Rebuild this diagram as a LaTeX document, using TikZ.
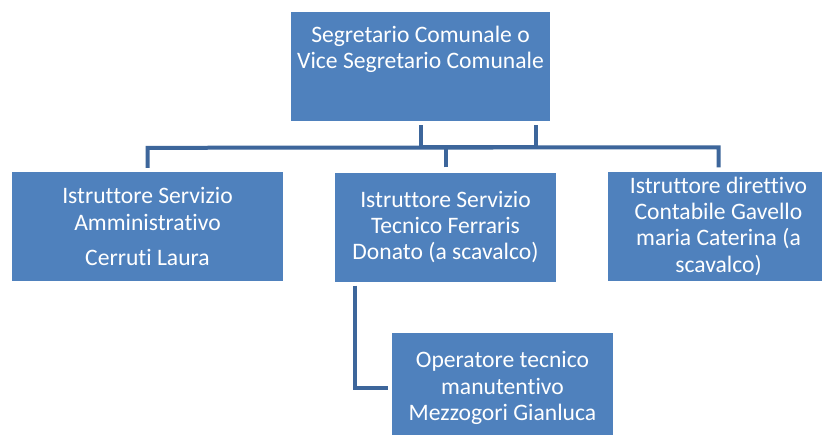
\documentclass[tikz,border=0pt]{standalone}
\usepackage{fontspec}
\setmainfont{Carlito}[Ligatures={NoCommon}]
\usetikzlibrary{calc}
\definecolor{boxblue}{RGB}{79,129,189}
\definecolor{linkblue}{RGB}{61,102,155}
\tikzset{
  box/.style={fill=boxblue, draw=none, rectangle, minimum width=221pt, minimum height=109pt,
    inner sep=0pt, align=center, text=white, font=\fontsize{23.6}{26.3}\selectfont},
  boxtext/.style={inner sep=0pt, align=center, text=white, font=\fontsize{23.6}{26.3}\selectfont},
  conn/.style={draw=linkblue, line width=4pt, line cap=butt, line join=miter}
}
\begin{document}
\begin{tikzpicture}[x=1pt,y=-1pt]
\clip (0,0) rectangle (822,434);
\fill[white] (0,0) rectangle (822,434);
% boxes
\node[box, minimum width=259pt, minimum height=109pt] (top) at (420.5,66.5) {};
\node[boxtext, anchor=north] (toptext) at (420.5,26) {Segretario Comunale o\\Vice Segretario Comunale};
\node[box, minimum width=271pt] (l) at (147.5,226.5) {Istruttore Servizio\\Amministrativo\\[9pt]Cerruti Laura};
\node[box] (m) at (445.5,227) {Istruttore Servizio\\Tecnico Ferraris\\Donato (a scavalco)};
\node[box] (r) at (718.5,226) {Istruttore direttivo\\Contabile Gavello\\maria Caterina (a\\scavalco)};
\node[box, minimum height=110pt] (b) at (502.5,388) {Operatore tecnico\\manutentivo\\Mezzogori Gianluca};
% connectors
\draw[conn] ($(top.south)+(0,4)$) |- ($(top.south east)+(-14,26)$) -- ($(top.south east)+(-14,4)$);
\draw[conn] ($(l.north)+(0,-4)$) -- ($(l.north)+(0,-24)$) -- ($(r.north)+(0,-24)$) -- ($(r.north)+(0,-4)$);
\draw[conn] ($(m.north)+(0,-5)$) -- ($(m.north)+(0,-23)$);
\draw[conn] ($(m.south west)+(20,4)$) |- ($(b.west)+(-4,0)$);
\end{tikzpicture}
\end{document}
